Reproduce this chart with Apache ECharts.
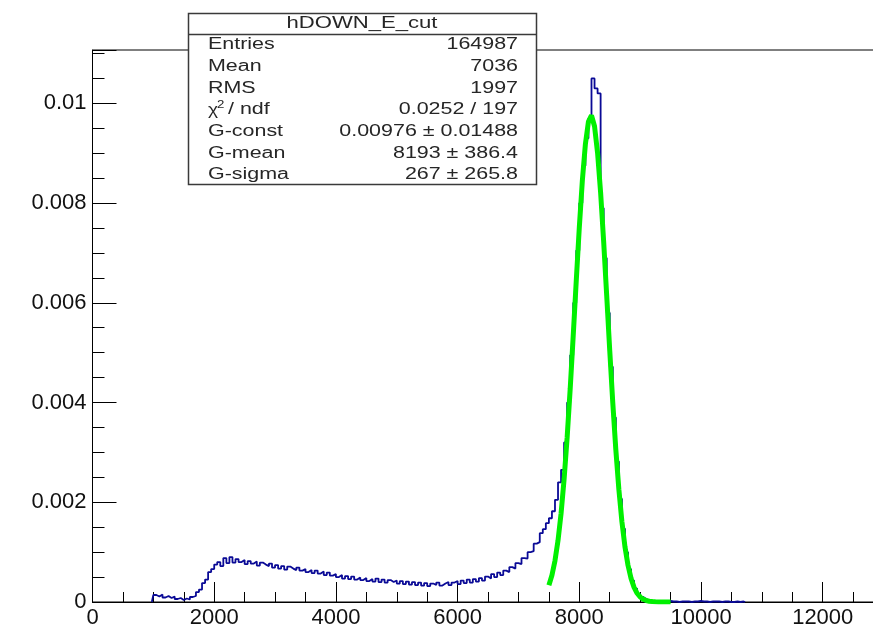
<!DOCTYPE html>
<html>
<head>
<meta charset="utf-8">
<script src="https://cdn.jsdelivr.net/npm/echarts/dist/echarts.min.js"></script>
<style>
html,body{margin:0;padding:0;background:#fff;}
#chart{width:873px;height:632px;}
</style>
</head>
<body>
<div id="chart"></div>
<script>
// ---- Data ----
// Histogram hDOWN_E_cut: bin centres start at histStart, bin width binWidth
const histStart = 975;
const binWidth = 50;
const histValues = [
  0, 0.00014, 0.00011, 0.00015, 0.00009, 0.00012, 0.00008, 0.00011, 0.00006, 0.00008,
  0.00004, 0.00007, 0.00005, 0.00010, 0.00012, 0.00020, 0.00025, 0.00038, 0.00045, 0.00060,
  0.00066, 0.00075, 0.00080, 0.00072, 0.00088, 0.00078, 0.00090, 0.00079, 0.00086, 0.00080,
  0.00084, 0.00076, 0.00082, 0.00077, 0.00081, 0.00073, 0.00079, 0.00075, 0.00072, 0.00077,
  0.00069, 0.00074, 0.00067, 0.00072, 0.00065, 0.00071, 0.00067, 0.00064, 0.00069, 0.00063,
  0.00066, 0.00060, 0.00064, 0.00058, 0.00063, 0.00057, 0.00061, 0.00054, 0.00059, 0.00053,
  0.00056, 0.00050, 0.00054, 0.00047, 0.00052, 0.00046, 0.00051, 0.00045, 0.00049, 0.00044,
  0.00048, 0.00042, 0.00046, 0.00041, 0.00047, 0.00040, 0.00045, 0.00039, 0.00044, 0.00040,
  0.00043, 0.00037, 0.00042, 0.00036, 0.00041, 0.00035, 0.00040, 0.00034, 0.00039, 0.00033,
  0.00038, 0.00032, 0.00037, 0.00034, 0.00039, 0.00033, 0.00037, 0.00040, 0.00034, 0.00039,
  0.00042, 0.00036, 0.00043, 0.00038, 0.00045, 0.00039, 0.00046, 0.00041, 0.00048, 0.00043,
  0.00051, 0.00047, 0.00056, 0.00050, 0.00059, 0.00054, 0.00063, 0.00060, 0.00070, 0.00067,
  0.00078, 0.00076, 0.00088, 0.00087, 0.00100, 0.00102, 0.00117, 0.00120, 0.00138, 0.00146,
  0.00158, 0.00168, 0.00182, 0.00205, 0.00240, 0.00265, 0.00320, 0.00400, 0.00495, 0.00600,
  0.00705, 0.00800, 0.00875, 0.00930, 0.00970, 0.01050, 0.01030, 0.01020, 0.00790, 0.00690,
  0.00580, 0.00472, 0.00370, 0.00282, 0.00207, 0.00147, 0.00100, 0.00066, 0.00043, 0.00027,
  0.00016, 0.00010, 0.00006, 0.00003, 0.00002, 0.00002, 0.00001, 0.00002, 0.00001, 0.00001,
  0.00002, 0.00001, 0.00001, 0, 0.00001, 0.00001, 0.00001, 0, 0.00001, 0.00001,
  0.00002, 0.00001, 0.00001, 0, 0.00001, 0.00001, 0.00001, 0, 0.00001, 0.00001,
  0, 0, 0.00001, 0, 0.00001, 0
];

const fitStart = 7500;
const fitStep = 50;
const fitValues = [
  0.000336, 0.000537, 0.000829, 0.001234, 0.001775, 0.002465, 0.003304, 0.004276, 0.005346, 0.00645,
  0.007516, 0.008456, 0.009185, 0.009634, 0.009757, 0.00954, 0.009006, 0.00821, 0.007226, 0.006142,
  0.00504, 0.003992, 0.003054, 0.002256, 0.001608, 0.001108, 0.000737, 0.000473, 0.000293, 0.000175,
  0.000101, 0.000057, 0.00003, 0.000016, 0.000008, 0.000004, 0.000002, 0.000001, 0, 0, 0
];

// Axis ticks
const xTickStep = 2000;
const yTickStep = 0.002;

// Stats box text
const statsTitle = 'hDOWN_E_cut';
const statsLabels = ['Entries', 'Mean', 'RMS', '', 'G-const', 'G-mean', 'G-sigma'];
const statsValues = ['164987', '7036', '1997', '0.0252 / 197', '0.00976 \u00b1 0.01488', '8193 \u00b1 386.4', '267 \u00b1 265.8'];

// ---- Build chart ----
const FONT = '"Liberation Sans", Arial, Helvetica, sans-serif';
const histData = histValues.map((v, i) => [histStart + i * binWidth, v]);
const fitData = fitValues.map((v, i) => [fitStart + i * fitStep, v]);

function txt(x, y, text, size, align, sx) {
  return {
    type: 'text', x: x, y: y, z: 102, scaleX: sx || 1.34,
    style: {
      text: text, fill: '#262626',
      font: size + 'px ' + FONT,
      textAlign: align, align: align,
      textVerticalAlign: 'middle', verticalAlign: 'middle'
    }
  };
}

const rowY = [45, 67, 88.5, 110, 132, 153.5, 174.5];
const graphics = [
  { type: 'rect', z: 100, shape: { x: 188.5, y: 13.5, width: 348, height: 171 },
    style: { fill: '#fff', stroke: '#3a3a3a', lineWidth: 1.5 } },
  { type: 'line', z: 101, shape: { x1: 188.5, y1: 34.5, x2: 536.5, y2: 34.5 },
    style: { stroke: '#3a3a3a', lineWidth: 1.5 } },
  txt(362, 24, statsTitle, 16, 'center', 1.38)
];
statsLabels.forEach((l, i) => {
  if (l) graphics.push(txt(208, rowY[i], l, 16, 'left'));
  graphics.push(txt(518, rowY[i], statsValues[i], 16, 'right'));
});
// chi^2 / ndf label with superscript
graphics.push(txt(208, rowY[3] + 1, '\u03c7', 16, 'left', 1.2));
graphics.push(txt(217, rowY[3] - 5, '2', 11, 'left', 1.2));
graphics.push(txt(228, rowY[3], '/ ndf', 16, 'left'));

const chart = echarts.init(document.getElementById('chart'), null, { renderer: 'canvas' });
chart.setOption({
  animation: false,
  backgroundColor: '#fff',
  grid: { left: 92.5, top: 50, height: 552, width: 785, containLabel: false, outerBoundsMode: 'none',
          show: true, borderColor: '#000', borderWidth: 1, backgroundColor: 'transparent' },
  xAxis: {
    type: 'value', min: 0, max: 12900, interval: xTickStep,
    axisLine: { show: true, onZero: false, lineStyle: { color: '#000', width: 1 } },
    axisTick: { show: true, inside: true, length: 20, lineStyle: { color: '#000', width: 1 } },
    minorTick: { show: true, splitNumber: 4, length: 10, lineStyle: { color: '#000', width: 1 } },
    splitLine: { show: false },
    axisLabel: {
      margin: 5, color: '#111', fontSize: 22, fontFamily: FONT,
      formatter: v => (Math.abs(v / xTickStep - Math.round(v / xTickStep)) < 1e-6 ? String(Math.round(v)) : '')
    }
  },
  yAxis: {
    type: 'value', min: 0, max: 0.01107, interval: yTickStep,
    axisLine: { show: true, onZero: false, lineStyle: { color: '#000', width: 1 } },
    axisTick: { show: true, inside: true, length: 24, lineStyle: { color: '#000', width: 1 } },
    minorTick: { show: true, splitNumber: 4, length: 12, lineStyle: { color: '#000', width: 1 } },
    splitLine: { show: false },
    axisLabel: {
      margin: 6, color: '#111', fontSize: 22, fontFamily: FONT,
      formatter: v => {
        const k = v / yTickStep;
        if (Math.abs(k - Math.round(k)) > 1e-6) return '';
        return v === 0 ? '0' : String(+v.toFixed(4));
      }
    }
  },
  series: [
    {
      type: 'line', data: histData, step: 'middle', symbol: 'none', z: 2,
      lineStyle: { color: '#0a0a96', width: 1.8 }
    },
    {
      type: 'line', data: fitData, symbol: 'none', z: 3, smooth: false,
      lineStyle: { color: '#00f000', width: 5 }
    }
  ],
  graphic: graphics
});
</script>
</body>
</html>
